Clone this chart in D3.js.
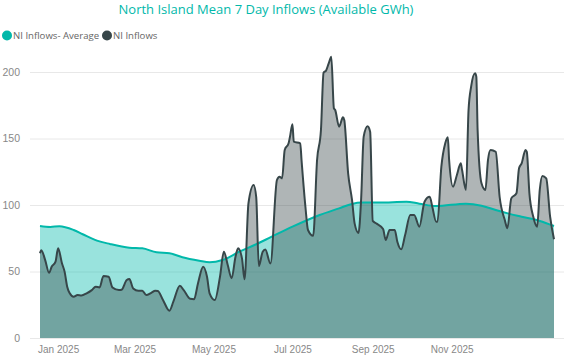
<!DOCTYPE html>
<html><head><meta charset="utf-8">
<script src="https://cdn.jsdelivr.net/npm/d3@7"></script>
<style>body{margin:0;background:#fff;}svg{display:block;font-family:"Open Sans","Noto Sans",sans-serif;}</style>
</head><body>
<svg id="chart" width="569" height="358"></svg>
<script>
const title = "North Island Mean 7 Day Inflows (Available GWh)";
const seriesNames = ["NI Inflows- Average", "NI Inflows"];
const yTicks = [0, 50, 100, 150, 200];
const xTickLabels = ["2025-01-01","2025-03-01","2025-05-01","2025-07-01","2025-09-01","2025-11-01"];

const avgDates = ["2024-12-18","2024-12-26","2025-01-02","2025-01-13","2025-01-20","2025-01-31","2025-02-10","2025-02-25","2025-03-07","2025-03-18","2025-03-28","2025-04-07","2025-04-20","2025-04-28","2025-05-08","2025-05-21","2025-06-03","2025-06-15","2025-07-01","2025-07-22","2025-08-06","2025-08-16","2025-08-23","2025-09-06","2025-09-27","2025-10-07","2025-10-20","2025-11-12","2025-11-24","2025-12-05","2025-12-15","2025-12-25","2026-01-08","2026-01-19"];
const avgValues = [84.2,83.5,84,81.2,78,73.2,70.7,67.9,67.4,64.4,63.7,60.7,58.1,56.9,58.6,64.9,70.5,76.2,83.7,92.5,97.5,100.8,101.8,101.8,102.5,101,99.2,101,99.5,96.2,93.5,91.2,88,84.2];

const inflowDates = ["2024-12-18","2024-12-19","2024-12-22","2024-12-25","2024-12-27","2024-12-30","2025-01-01","2025-01-04","2025-01-06","2025-01-08","2025-01-10","2025-01-13","2025-01-16","2025-01-19","2025-01-23","2025-01-27","2025-01-30","2025-02-02","2025-02-05","2025-02-09","2025-02-12","2025-02-17","2025-02-19","2025-02-23","2025-02-25","2025-02-28","2025-03-04","2025-03-07","2025-03-10","2025-03-14","2025-03-17","2025-03-19","2025-03-23","2025-03-28","2025-03-31","2025-04-05","2025-04-08","2025-04-13","2025-04-16","2025-04-19","2025-04-23","2025-04-26","2025-04-28","2025-05-02","2025-05-06","2025-05-09","2025-05-12","2025-05-15","2025-05-18","2025-05-20","2025-05-23","2025-05-25","2025-05-28","2025-06-01","2025-06-03","2025-06-05","2025-06-08","2025-06-10","2025-06-14","2025-06-19","2025-06-21","2025-06-23","2025-06-25","2025-06-28","2025-06-29","2025-07-01","2025-07-02","2025-07-07","2025-07-08","2025-07-11","2025-07-13","2025-07-17","2025-07-20","2025-07-23","2025-07-25","2025-07-27","2025-07-29","2025-07-31","2025-08-02","2025-08-03","2025-08-06","2025-08-09","2025-08-10","2025-08-13","2025-08-16","2025-08-18","2025-08-21","2025-08-23","2025-08-25","2025-08-28","2025-08-30","2025-09-01","2025-09-04","2025-09-09","2025-09-11","2025-09-14","2025-09-18","2025-09-20","2025-09-23","2025-09-26","2025-09-30","2025-10-03","2025-10-07","2025-10-11","2025-10-15","2025-10-17","2025-10-20","2025-10-21","2025-10-24","2025-10-27","2025-10-29","2025-10-30","2025-11-02","2025-11-05","2025-11-08","2025-11-09","2025-11-12","2025-11-14","2025-11-16","2025-11-19","2025-11-20","2025-11-21","2025-11-24","2025-11-27","2025-11-29","2025-12-01","2025-12-05","2025-12-08","2025-12-12","2025-12-14","2025-12-17","2025-12-21","2025-12-23","2025-12-25","2025-12-28","2025-12-29","2025-12-31","2026-01-03","2026-01-06","2026-01-08","2026-01-10","2026-01-13","2026-01-16","2026-01-19"];
const inflowValues = [63.7,66,58.6,49,53.6,57.4,67.4,56,49.9,38.6,33.6,31,32.3,32,33.6,36,38.6,38,46.6,46,38,36,36.3,43.6,44.3,37.3,35.6,35.6,32.3,34,35.6,35.4,28.6,20.5,27.3,39.3,36,29.5,29.2,41,53.6,46,33.6,28.6,46,64.9,54.9,44.9,61.1,67.4,59.9,44.1,101.3,115,106,54.1,64.9,66.5,56,118.8,121.3,120,141.4,146.4,150.9,160.7,147.6,146.4,133.8,98.7,81.2,76.8,133.8,156.4,199.5,201.2,206.5,211.5,172.7,171.4,158.9,165.9,164,123.8,103.8,86.2,79,103.8,151.4,159.2,155,88,86,82,73.7,81.2,81.2,72.4,66.7,77.4,92.5,92.5,83.7,102.5,106.2,98.7,87.4,87.4,128.8,146.4,150.9,133.8,113.8,122.6,131.3,126.3,111.3,171.4,189,199,196.5,156.4,116.3,111.3,133.8,141.4,140,106.2,88.7,82.5,105,108.8,127.6,131.3,141.4,140,108.8,91.2,83.7,111.3,121.8,120,91.2,74.2];

const parse = d3.utcParse("%Y-%m-%d");
const avgData = avgDates.map((d,i)=>({date:parse(d), v:avgValues[i]}));
const inflowData = inflowDates.map((d,i)=>({date:parse(d), v:inflowValues[i]}));

const teal = "#01B8AA", dark = "#374649";
const svg = d3.select("#chart");

const x = d3.scaleUtc().domain([parse("2024-12-18"), parse("2026-01-19")]).range([40, 554]);
const y = d3.scaleLinear().domain([0, 200]).range([338, 72]);

// title
svg.append("text").attr("x", 266).attr("y", 14).attr("text-anchor","middle")
  .attr("font-size", 13).attr("fill", teal).text(title);

// legend
const legend = svg.append("g");
const lx = [7, 107];
seriesNames.forEach((n,i)=>{
  legend.append("circle").attr("cx", lx[i]).attr("cy", 35.5).attr("r", 5).attr("fill", i===0?teal:dark);
  legend.append("text").attr("x", lx[i]+6).attr("y", 39).attr("font-size", 9.6).attr("fill","#666").text(n);
});

// gridlines + y axis
const yAxis = d3.axisLeft(y).tickValues(yTicks).tickSize(-534).tickPadding(10);
const gy = svg.append("g").attr("transform","translate(30,0)").call(yAxis);
gy.select(".domain").remove();
gy.selectAll(".tick line").attr("stroke","#e8e8e8").attr("stroke-width",1);
gy.selectAll(".tick text").attr("font-size",10.5).attr("fill","#888").attr("font-family","inherit").attr("x",-10);

// areas
const areaAvg = d3.area().x(d=>x(d.date)).y0(y(0)).y1(d=>y(d.v)).curve(d3.curveMonotoneX);
const areaIn = d3.area().x(d=>x(d.date)).y0(y(0)).y1(d=>y(d.v)).curve(d3.curveMonotoneX);
const line = d3.line().x(d=>x(d.date)).y(d=>y(d.v)).curve(d3.curveMonotoneX);

svg.append("path").datum(avgData).attr("d", areaAvg).attr("fill", teal).attr("fill-opacity",0.4);
svg.append("path").datum(inflowData).attr("d", areaIn).attr("fill", dark).attr("fill-opacity",0.4);
svg.append("path").datum(avgData).attr("d", line).attr("fill","none").attr("stroke",teal).attr("stroke-width",2);
svg.append("path").datum(inflowData).attr("d", line).attr("fill","none").attr("stroke",dark).attr("stroke-width",2);

// x axis
const xAxis = d3.axisBottom(x).tickValues(xTickLabels.map(parse)).tickFormat(d3.utcFormat("%b %Y")).tickSize(0).tickPadding(8);
const gx = svg.append("g").attr("transform","translate(0,338)").call(xAxis);
gx.select(".domain").remove();
gx.selectAll(".tick text").attr("font-size",10).attr("fill","#888").attr("font-family","inherit");
</script>
</body></html>
